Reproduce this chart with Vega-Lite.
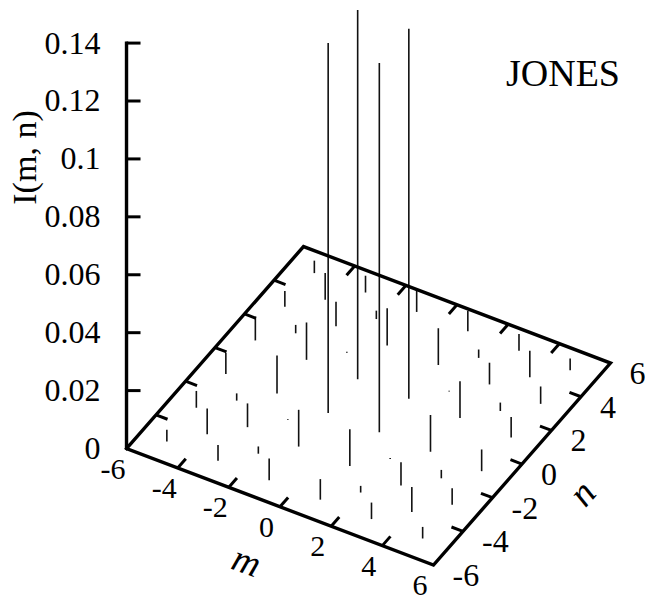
{
  "$schema": "https://vega.github.io/schema/vega-lite/v6.json",
  "width": 520,
  "height": 602,
  "autosize": {"type": "none"},
  "padding": {"left": 125, "top": 0, "right": 0, "bottom": 0},
  "background": "white",
  "config": {"view": {"stroke": null}},
  "title": {"text": "JONES", "anchor": "end", "frame": "group", "orient": "top", "offset": 0, "baseline": "alphabetic", "dy": 124, "dx": -25, "font": "Liberation Serif", "fontSize": 38, "fontWeight": "normal", "color": "#000"},
  "datasets": {
    "stems": [
      {"m":-6,"n":-6,"I":0},{"m":-6,"n":-5,"I":0},{"m":-6,"n":-4,"I":0},{"m":-6,"n":-3,"I":0},{"m":-6,"n":-2,"I":0},{"m":-6,"n":-1,"I":0},{"m":-6,"n":0,"I":0},{"m":-6,"n":1,"I":0},{"m":-6,"n":2,"I":0},{"m":-6,"n":3,"I":0},{"m":-6,"n":4,"I":0},{"m":-6,"n":5,"I":0},{"m":-6,"n":6,"I":0},
      {"m":-5,"n":-6,"I":0},{"m":-5,"n":-5,"I":0.004},{"m":-5,"n":-4,"I":0},{"m":-5,"n":-3,"I":0.0058},{"m":-5,"n":-2,"I":0},{"m":-5,"n":-1,"I":0.0073},{"m":-5,"n":0,"I":0},{"m":-5,"n":1,"I":0.0079},{"m":-5,"n":2,"I":0},{"m":-5,"n":3,"I":0.0054},{"m":-5,"n":4,"I":0},{"m":-5,"n":5,"I":0.0043},{"m":-5,"n":6,"I":0},
      {"m":-4,"n":-6,"I":0},{"m":-4,"n":-5,"I":0},{"m":-4,"n":-4,"I":0.0089},{"m":-4,"n":-3,"I":0},{"m":-4,"n":-2,"I":0.0025},{"m":-4,"n":-1,"I":0},{"m":-4,"n":0,"I":0},{"m":-4,"n":1,"I":0},{"m":-4,"n":2,"I":0.0029},{"m":-4,"n":3,"I":0},{"m":-4,"n":4,"I":0.0092},{"m":-4,"n":5,"I":0},{"m":-4,"n":6,"I":0},
      {"m":-3,"n":-6,"I":0},{"m":-3,"n":-5,"I":0.0055},{"m":-3,"n":-4,"I":0},{"m":-3,"n":-3,"I":0.0082},{"m":-3,"n":-2,"I":0},{"m":-3,"n":-1,"I":0.0131},{"m":-3,"n":0,"I":0},{"m":-3,"n":1,"I":0.0129},{"m":-3,"n":2,"I":0},{"m":-3,"n":3,"I":0.0084},{"m":-3,"n":4,"I":0},{"m":-3,"n":5,"I":0.0058},{"m":-3,"n":6,"I":0},
      {"m":-2,"n":-6,"I":0},{"m":-2,"n":-5,"I":0},{"m":-2,"n":-4,"I":0.0025},{"m":-2,"n":-3,"I":0},{"m":-2,"n":-2,"I":0.0003},{"m":-2,"n":-1,"I":0},{"m":-2,"n":0,"I":0},{"m":-2,"n":1,"I":0},{"m":-2,"n":2,"I":0.0003},{"m":-2,"n":3,"I":0},{"m":-2,"n":4,"I":0.0029},{"m":-2,"n":5,"I":0},{"m":-2,"n":6,"I":0},
      {"m":-1,"n":-6,"I":0},{"m":-1,"n":-5,"I":0.0075},{"m":-1,"n":-4,"I":0},{"m":-1,"n":-3,"I":0.0127},{"m":-1,"n":-2,"I":0},{"m":-1,"n":-1,"I":0.1277},{"m":-1,"n":0,"I":0},{"m":-1,"n":1,"I":0.1275},{"m":-1,"n":2,"I":0},{"m":-1,"n":3,"I":0.0129},{"m":-1,"n":4,"I":0},{"m":-1,"n":5,"I":0.0078},{"m":-1,"n":6,"I":0},
      {"m":0,"n":-6,"I":0},{"m":0,"n":-5,"I":0},{"m":0,"n":-4,"I":0},{"m":0,"n":-3,"I":0},{"m":0,"n":-2,"I":0},{"m":0,"n":-1,"I":0},{"m":0,"n":0,"I":0},{"m":0,"n":1,"I":0},{"m":0,"n":2,"I":0},{"m":0,"n":3,"I":0},{"m":0,"n":4,"I":0},{"m":0,"n":5,"I":0},{"m":0,"n":6,"I":0},
      {"m":1,"n":-6,"I":0},{"m":1,"n":-5,"I":0.0071},{"m":1,"n":-4,"I":0},{"m":1,"n":-3,"I":0.0127},{"m":1,"n":-2,"I":0},{"m":1,"n":-1,"I":0.1275},{"m":1,"n":0,"I":0},{"m":1,"n":1,"I":0.1277},{"m":1,"n":2,"I":0},{"m":1,"n":3,"I":0.0127},{"m":1,"n":4,"I":0},{"m":1,"n":5,"I":0.0071},{"m":1,"n":6,"I":0},
      {"m":2,"n":-6,"I":0},{"m":2,"n":-5,"I":0},{"m":2,"n":-4,"I":0.0023},{"m":2,"n":-3,"I":0},{"m":2,"n":-2,"I":0.0003},{"m":2,"n":-1,"I":0},{"m":2,"n":0,"I":0},{"m":2,"n":1,"I":0},{"m":2,"n":2,"I":0.0003},{"m":2,"n":3,"I":0},{"m":2,"n":4,"I":0.0029},{"m":2,"n":5,"I":0},{"m":2,"n":6,"I":0},
      {"m":3,"n":-6,"I":0},{"m":3,"n":-5,"I":0.0057},{"m":3,"n":-4,"I":0},{"m":3,"n":-3,"I":0.008},{"m":3,"n":-2,"I":0},{"m":3,"n":-1,"I":0.0127},{"m":3,"n":0,"I":0},{"m":3,"n":1,"I":0.0127},{"m":3,"n":2,"I":0},{"m":3,"n":3,"I":0.0075},{"m":3,"n":4,"I":0},{"m":3,"n":5,"I":0.0058},{"m":3,"n":6,"I":0},
      {"m":4,"n":-6,"I":0},{"m":4,"n":-5,"I":0},{"m":4,"n":-4,"I":0.0086},{"m":4,"n":-3,"I":0},{"m":4,"n":-2,"I":0.0029},{"m":4,"n":-1,"I":0},{"m":4,"n":0,"I":0},{"m":4,"n":1,"I":0},{"m":4,"n":2,"I":0.0029},{"m":4,"n":3,"I":0},{"m":4,"n":4,"I":0.0092},{"m":4,"n":5,"I":0},{"m":4,"n":6,"I":0},
      {"m":5,"n":-6,"I":0},{"m":5,"n":-5,"I":0.004},{"m":5,"n":-4,"I":0},{"m":5,"n":-3,"I":0.0057},{"m":5,"n":-2,"I":0},{"m":5,"n":-1,"I":0.0075},{"m":5,"n":0,"I":0},{"m":5,"n":1,"I":0.0071},{"m":5,"n":2,"I":0},{"m":5,"n":3,"I":0.006},{"m":5,"n":4,"I":0},{"m":5,"n":5,"I":0.004},{"m":5,"n":6,"I":0},
      {"m":6,"n":-6,"I":0},{"m":6,"n":-5,"I":0},{"m":6,"n":-4,"I":0},{"m":6,"n":-3,"I":0},{"m":6,"n":-2,"I":0},{"m":6,"n":-1,"I":0},{"m":6,"n":0,"I":0},{"m":6,"n":1,"I":0},{"m":6,"n":2,"I":0},{"m":6,"n":3,"I":0},{"m":6,"n":4,"I":0},{"m":6,"n":5,"I":0},{"m":6,"n":6,"I":0}
    ],
    "frame": [
      {"k":0,"m":-6,"n":-6,"z":0.14},
      {"k":1,"m":-6,"n":-6,"z":0},
      {"k":2,"m":6,"n":-6,"z":0},
      {"k":3,"m":6,"n":6,"z":0},
      {"k":4,"m":-6,"n":6,"z":0},
      {"k":5,"m":-6,"n":-6,"z":0}
    ],
    "zticks": [
      {"m":-6,"n":-6,"z":0.02},{"m":-6,"n":-6,"z":0.04},{"m":-6,"n":-6,"z":0.06},{"m":-6,"n":-6,"z":0.08},{"m":-6,"n":-6,"z":0.1},{"m":-6,"n":-6,"z":0.12},{"m":-6,"n":-6,"z":0.14}
    ],
    "gridticks": [
      {"axis":"m","v":-4},{"axis":"m","v":-2},{"axis":"m","v":0},{"axis":"m","v":2},{"axis":"m","v":4},
      {"axis":"n","v":-4},{"axis":"n","v":-2},{"axis":"n","v":0},{"axis":"n","v":2},{"axis":"n","v":4}
    ],
    "mlabels": [
      {"m":-6,"n":-6,"label":"-6"},{"m":-4,"n":-6,"label":"-4"},{"m":-2,"n":-6,"label":"-2"},{"m":0,"n":-6,"label":"0"},{"m":2,"n":-6,"label":"2"},{"m":4,"n":-6,"label":"4"},{"m":6,"n":-6,"label":"6"}
    ],
    "nlabels": [
      {"m":6,"n":-6,"label":"-6"},{"m":6,"n":-4,"label":"-4"},{"m":6,"n":-2,"label":"-2"},{"m":6,"n":0,"label":"0"},{"m":6,"n":2,"label":"2"},{"m":6,"n":4,"label":"4"},{"m":6,"n":6,"label":"6"}
    ]
  },
  "encoding": {
    "x": {"field": "px", "type": "quantitative", "scale": {"domain": [125, 645], "nice": false, "zero": false}, "axis": null},
    "y": {"field": "py", "type": "quantitative", "scale": {"domain": [-0.053004, 0.154869], "nice": false, "zero": false},
      "axis": {"values": [0, 0.02, 0.04, 0.06, 0.08, 0.1, 0.12, 0.14], "format": "~g", "ticks": false, "tickSize": 0, "domain": false, "grid": false,
        "labelFont": "Liberation Sans Narrow", "labelFontSize": 32, "labelColor": "#000", "labelPadding": 25, "labelBaseline": "middle", "labelOverlap": false, "labelFlush": false, "labelBound": false,
        "title": "I(m, n)", "titleFont": "Liberation Serif", "titleFontSize": 34, "titleFontWeight": "normal", "titleColor": "#000", "titleX": -100, "titleY": 157, "titleAngle": -90, "titleAlign": "center", "titleBaseline": "middle"}}
  },
  "layer": [
    {
      "data": {"name": "stems"},
      "transform": [
        {"calculate": "368.5 + 25.58*datum.m + 14.75*datum.n", "as": "px"},
        {"calculate": "(42.7 - 9.71*datum.m + 16.83*datum.n)/2896", "as": "py"},
        {"calculate": "datum.py + datum.I", "as": "py2"}
      ],
      "mark": {"type": "rule", "stroke": "#111", "strokeWidth": 1.6},
      "encoding": {"y2": {"field": "py2"}}
    },
    {
      "data": {"name": "frame"},
      "transform": [
        {"calculate": "368.5 + 25.58*datum.m + 14.75*datum.n", "as": "px"},
        {"calculate": "(42.7 - 9.71*datum.m + 16.83*datum.n)/2896 + datum.z", "as": "py"}
      ],
      "mark": {"type": "line", "stroke": "#000", "strokeWidth": 3.4, "strokeJoin": "miter", "strokeCap": "square"},
      "encoding": {"order": {"field": "k", "type": "quantitative"}}
    },
    {
      "data": {"name": "zticks"},
      "transform": [
        {"calculate": "368.5 + 25.58*datum.m + 14.75*datum.n", "as": "px"},
        {"calculate": "(42.7 - 9.71*datum.m + 16.83*datum.n)/2896 + datum.z", "as": "py"}
      ],
      "mark": {"type": "rule", "stroke": "#000", "strokeWidth": 3, "x2Offset": 14},
      "encoding": {"x2": {"field": "px"}}
    },
    {
      "data": {"name": "gridticks"},
      "transform": [
        {"calculate": "datum.axis=='m' ? datum.v : 6", "as": "m1"},
        {"calculate": "datum.axis=='m' ? -6 : datum.v", "as": "n1"},
        {"calculate": "datum.axis=='m' ? datum.v : 5.55", "as": "m2"},
        {"calculate": "datum.axis=='m' ? -5.45 : datum.v", "as": "n2"},
        {"calculate": "368.5 + 25.58*datum.m1 + 14.75*datum.n1", "as": "px"},
        {"calculate": "(42.7 - 9.71*datum.m1 + 16.83*datum.n1)/2896", "as": "py"},
        {"calculate": "368.5 + 25.58*datum.m2 + 14.75*datum.n2", "as": "px2"},
        {"calculate": "(42.7 - 9.71*datum.m2 + 16.83*datum.n2)/2896", "as": "py2"}
      ],
      "mark": {"type": "rule", "stroke": "#000", "strokeWidth": 3},
      "encoding": {"x2": {"field": "px2"}, "y2": {"field": "py2"}}
    },
    {
      "data": {"name": "gridticks"},
      "transform": [
        {"calculate": "datum.axis=='m' ? datum.v : -6", "as": "m1"},
        {"calculate": "datum.axis=='m' ? 6 : datum.v", "as": "n1"},
        {"calculate": "datum.axis=='m' ? datum.v : -5.55", "as": "m2"},
        {"calculate": "datum.axis=='m' ? 5.45 : datum.v", "as": "n2"},
        {"calculate": "368.5 + 25.58*datum.m1 + 14.75*datum.n1", "as": "px"},
        {"calculate": "(42.7 - 9.71*datum.m1 + 16.83*datum.n1)/2896", "as": "py"},
        {"calculate": "368.5 + 25.58*datum.m2 + 14.75*datum.n2", "as": "px2"},
        {"calculate": "(42.7 - 9.71*datum.m2 + 16.83*datum.n2)/2896", "as": "py2"}
      ],
      "mark": {"type": "rule", "stroke": "#000", "strokeWidth": 3},
      "encoding": {"x2": {"field": "px2"}, "y2": {"field": "py2"}}
    },
    {
      "data": {"name": "mlabels"},
      "transform": [
        {"calculate": "368.5 + 25.58*datum.m + 14.75*datum.n", "as": "px"},
        {"calculate": "(42.7 - 9.71*datum.m + 16.83*datum.n)/2896", "as": "py"}
      ],
      "mark": {"type": "text", "font": "Liberation Sans Narrow", "fontSize": 30, "color": "#000", "align": "center", "baseline": "middle", "dx": -13.5, "dy": 21},
      "encoding": {"text": {"field": "label"}}
    },
    {
      "data": {"name": "nlabels"},
      "transform": [
        {"calculate": "368.5 + 25.58*datum.m + 14.75*datum.n", "as": "px"},
        {"calculate": "(42.7 - 9.71*datum.m + 16.83*datum.n)/2896", "as": "py"}
      ],
      "mark": {"type": "text", "font": "Liberation Sans Narrow", "fontSize": 32, "color": "#000", "align": "left", "baseline": "middle", "dx": 19, "dy": 11},
      "encoding": {"text": {"field": "label"}}
    },
    {
      "data": {"values": [{"m": 0, "n": -6, "label": "m"}]},
      "transform": [
        {"calculate": "368.5 + 25.58*datum.m + 14.75*datum.n", "as": "px"},
        {"calculate": "(42.7 - 9.71*datum.m + 16.83*datum.n)/2896", "as": "py"}
      ],
      "mark": {"type": "text", "font": "Liberation Serif", "fontStyle": "italic", "fontSize": 38, "color": "#000", "align": "center", "baseline": "middle", "angle": 20, "dx": -12.7, "dy": 64},
      "encoding": {"text": {"field": "label"}}
    },
    {
      "data": {"values": [{"m": 6, "n": 0, "label": "n"}]},
      "transform": [
        {"calculate": "368.5 + 25.58*datum.m + 14.75*datum.n", "as": "px"},
        {"calculate": "(42.7 - 9.71*datum.m + 16.83*datum.n)/2896", "as": "py"}
      ],
      "mark": {"type": "text", "font": "Liberation Serif", "fontStyle": "italic", "fontSize": 38, "color": "#000", "align": "center", "baseline": "middle", "angle": -49, "dx": 17.4, "dy": 66},
      "encoding": {"text": {"field": "label"}}
    }
  ]
}
